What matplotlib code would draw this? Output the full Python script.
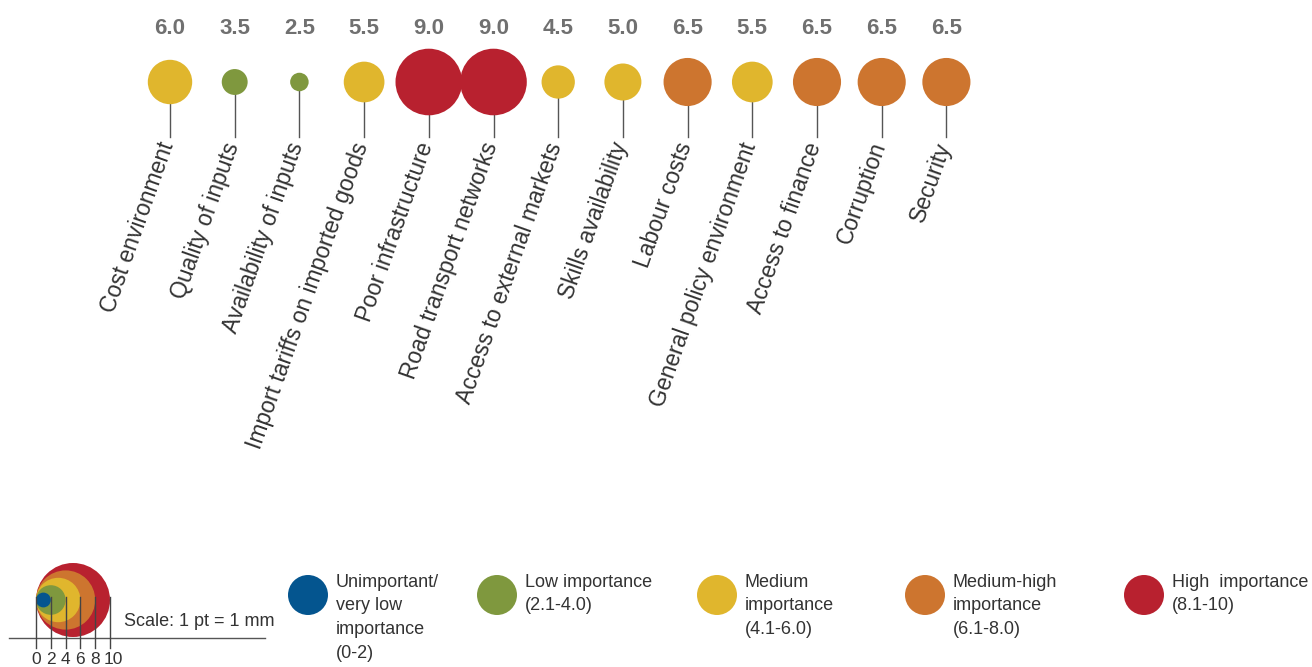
import matplotlib.pyplot as plt
from matplotlib.patches import Circle

plt.rcParams['font.family'] = ['Liberation Sans', 'DejaVu Sans']

factors = ['Cost environment', 'Quality of inputs', 'Availability of inputs',
           'Import tariffs on imported goods', 'Poor infrastructure',
           'Road transport networks', 'Access to external markets',
           'Skills availability', 'Labour costs', 'General policy environment',
           'Access to finance', 'Corruption', 'Security']
scores = [6.0, 3.5, 2.5, 5.5, 9.0, 9.0, 4.5, 5.0, 6.5, 5.5, 6.5, 6.5, 6.5]

band_upper = [2.0, 4.0, 6.0, 8.0, 10.0]
band_colors = ['#04558f', '#7f983e', '#e0b62d', '#cd752f', '#b8212f']
band_labels = ['Unimportant/\nvery low\nimportance\n(0-2)',
               'Low importance\n(2.1-4.0)',
               'Medium\nimportance\n(4.1-6.0)',
               'Medium-high\nimportance\n(6.1-8.0)',
               'High  importance\n(8.1-10)']
scale_ticks = [0, 2, 4, 6, 8, 10]


def band_color(v):
    for up, c in zip(band_upper, band_colors):
        if v <= up:
            return c
    return band_colors[-1]


# 1 data unit = 1 pixel
W, H = 1312, 667
fig = plt.figure(figsize=(W / 100, H / 100), dpi=100)
ax = fig.add_axes([0, 0, 1, 1])
ax.set_xlim(0, W)
ax.set_ylim(H, 0)
ax.axis('off')

k = 3.7  # radius per point of score
x0, dx = 170, 64.7
cy = 82
txt = '#333333'

for i, (name, v) in enumerate(zip(factors, scores)):
    x = x0 + i * dx
    ax.plot([x, x], [cy, 137], color='#555555', lw=1, zorder=1)
    ax.add_patch(Circle((x, cy), k * v, color=band_color(v), zorder=2, lw=0))
    ax.text(x, 28, f'{v:.1f}', ha='center', va='center', fontsize=16,
            fontweight='bold', color='#707070')
    ax.text(x - 2, 143, name, rotation=70.5, rotation_mode='anchor',
            ha='right', va='center', fontsize=16.5, color=txt)

# scale key
sx, sy = 36, 600
for v, c in zip(band_upper[::-1], band_colors[::-1]):
    ax.add_patch(Circle((sx + k * v, sy), k * v, color=c, lw=0, zorder=2))
ax.plot([9, 265], [638, 638], color='#555555', lw=1, zorder=3)
for t in scale_ticks:
    xt = sx + 2 * k * t
    ax.plot([xt, xt], [sy - 3, 648], color='#444444', lw=1, zorder=3)
    ax.text(xt + (3 if t >= 10 else 0), 660, str(t), ha='center', va='center',
            fontsize=12.5, color=txt)
ax.text(124, 622, 'Scale: 1 pt = 1 mm', ha='left', va='center', fontsize=13,
        color=txt)

# colour legend
leg_x = [308, 497, 717, 925, 1144]
for lx, c, lab in zip(leg_x, band_colors, band_labels):
    ax.add_patch(Circle((lx, 595), 20, color=c, lw=0))
    ax.text(lx + 28, 574, lab, ha='left', va='top', fontsize=13,
            color=txt, linespacing=1.5)

fig.savefig('out.png', dpi=100)
